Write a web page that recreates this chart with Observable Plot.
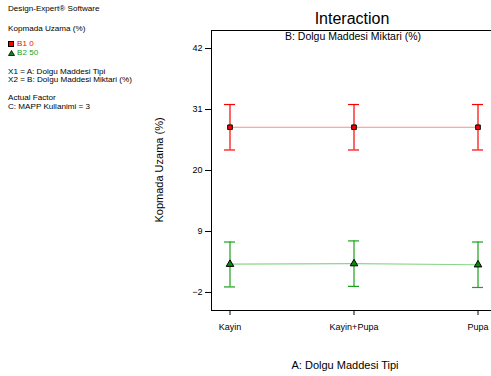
<!DOCTYPE html>
<html><head><meta charset="utf-8">
<script src="https://cdn.jsdelivr.net/npm/d3@7"></script>
<script src="https://cdn.jsdelivr.net/npm/@observablehq/plot@0.6"></script>
<style>
body{margin:0;background:#fff;font-family:"Liberation Sans",Arial,sans-serif;}
#wrap{position:relative;width:491px;height:376px;overflow:hidden;}
#wrap > svg{position:absolute;left:0;top:0;}
.t{position:absolute;white-space:nowrap;color:#000;}
.side{font-size:8.1px;left:8px;}
</style></head>
<body><div id="wrap"></div>
<script>
const categories = ["Kayin", "Kayin+Pupa", "Pupa"];
const b1Mean = [27.8, 27.8, 27.8];
const b1Low = [23.7, 23.7, 23.7];
const b1High = [31.9, 31.9, 31.9];
const b2Mean = [3.1, 3.2, 3.0];
const b2Low = [-1.0, -0.9, -1.1];
const b2High = [7.1, 7.3, 7.1];
const yTicks = [-2, 9, 20, 31, 42];

const b1 = categories.map((c, i) => ({cat: c, mean: b1Mean[i], lo: b1Low[i], hi: b1High[i]}));
const b2 = categories.map((c, i) => ({cat: c, mean: b2Mean[i], lo: b2Low[i], hi: b2High[i]}));

const red = "#ff0000", green = "#1aa31a";

const chart = Plot.plot({
  width: 491, height: 376,
  marginLeft: 211, marginRight: -4, marginTop: 30, marginBottom: 66,
  style: {fontFamily: "Liberation Sans, Arial, sans-serif", fontSize: "9px", background: "transparent", overflow: "hidden"},
  x: {type: "band", domain: categories, paddingInner: 0.912, paddingOuter: 0.092, align: 0.5, axis: null},
  y: {domain: [-5.25, 45.25], axis: null},
  marks: [
    Plot.frame({stroke: "#000", strokeWidth: 1}),
    Plot.axisY({ticks: yTicks, tickSize: 6, tickPadding: 3, label: null, fontSize: 9, stroke: "#000"}),
    Plot.axisX({tickSize: 5, tickPadding: 8, label: null, fontSize: 9, tickFormat: d => d}),
    Plot.line(b1, {x: "cat", y: "mean", stroke: "#ff8a8a", strokeWidth: 1.2}),
    Plot.line(b2, {x: "cat", y: "mean", stroke: "#8cd68c", strokeWidth: 1.2}),
    Plot.ruleX(b1, {x: "cat", y1: "lo", y2: "hi", stroke: red, strokeWidth: 1.2}),
    Plot.tickY(b1, {x: "cat", y: "lo", stroke: red, strokeWidth: 1.2}),
    Plot.tickY(b1, {x: "cat", y: "hi", stroke: red, strokeWidth: 1.2}),
    Plot.ruleX(b2, {x: "cat", y1: "lo", y2: "hi", stroke: green, strokeWidth: 1.2}),
    Plot.tickY(b2, {x: "cat", y: "lo", stroke: green, strokeWidth: 1.2}),
    Plot.tickY(b2, {x: "cat", y: "hi", stroke: green, strokeWidth: 1.2}),
    Plot.dot(b1, {x: "cat", y: "mean", symbol: "square", r: 2.6, fill: red, stroke: "#000", strokeWidth: 1}),
    Plot.dot(b2, {x: "cat", y: "mean", symbol: "triangle", r: 2.8, fill: "#0a8a0a", stroke: "#000", strokeWidth: 1})
  ]
});
const wrap = document.getElementById("wrap");
wrap.appendChild(chart);

function addText(html, cls, style) {
  const d = document.createElement("div");
  d.className = "t " + cls;
  d.innerHTML = html;
  Object.assign(d.style, style);
  wrap.appendChild(d);
  return d;
}
addText("Design-Expert® Software", "side", {top: "4px"});
addText("Kopmada Uzama (%)", "side", {top: "24px"});
addText('<span style="display:inline-block;width:4px;height:4px;background:#f00;border:1px solid #000;margin-right:3px;vertical-align:middle"></span><span style="color:#f00">B1 0</span>', "side", {top: "39px"});
addText('<svg width="7" height="6" style="vertical-align:middle;margin-right:2px;position:static"><polygon points="3.5,0.5 6.5,5.5 0.5,5.5" fill="#0a8a0a" stroke="#000" stroke-width="0.8"/></svg><span style="color:#1aa31a">B2 50</span>', "side", {top: "48px"});
addText("X1 = A: Dolgu Maddesi Tipi", "side", {top: "67px"});
addText("X2 = B: Dolgu Maddesi Miktari (%)", "side", {top: "75px"});
addText("Actual Factor", "side", {top: "93px"});
addText("C: MAPP Kullanimi = 3", "side", {top: "102px"});

addText("Interaction", "", {fontSize: "16px", left: "352px", top: "10px", transform: "translateX(-50%)"});
addText("B: Dolgu Maddesi Miktari (%)", "", {fontSize: "10.5px", left: "353px", top: "30px", transform: "translateX(-50%)"});
addText("A: Dolgu Maddesi Tipi", "", {fontSize: "11px", left: "345px", top: "359px", transform: "translateX(-50%)"});
addText("Kopmada Uzama (%)", "", {fontSize: "11px", left: "159px", top: "170px", transform: "translate(-50%,-50%) rotate(-90deg)"});
</script></body></html>
